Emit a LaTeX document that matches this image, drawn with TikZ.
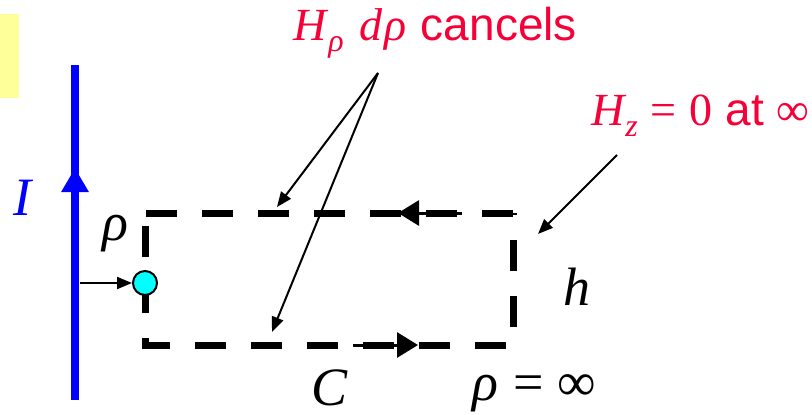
\documentclass[tikz,border=0pt]{standalone}
\usepackage{fontspec}
\setmainfont{Liberation Serif}
\newfontfamily\arialf{Liberation Sans}
\usetikzlibrary{arrows.meta}
\definecolor{lblred}{RGB}{245,0,55}
\definecolor{paleyellow}{RGB}{255,255,153}
\definecolor{dotcyan}{RGB}{0,255,255}
\definecolor{wireblue}{RGB}{0,0,255}
\newcommand{\lowsub}[1]{\raisebox{-11pt}{\fontsize{32}{32}\selectfont\itshape #1}}
\begin{document}
\begin{tikzpicture}[x=1pt,y=-1pt,
  thinarrow/.style={line width=2pt,-{Triangle[length=15pt,width=12pt]}},
  loopside/.style={line width=7pt,dash pattern=on 31pt off 25pt},
  looparrow/.style={line width=3pt,-{Triangle[length=21pt,width=25pt]}},
  blklbl/.style={font=\fontsize{54}{54}\selectfont, inner sep=0pt},
  redlbl/.style={text=lblred,font=\fontsize{46}{46}\selectfont, inner sep=0pt}]
\useasboundingbox (0,0) rectangle (812,415);
% yellow tab
\fill[paleyellow] (0,14) rectangle (19,98);
% wire
\coordinate (wb) at (75,400);
\coordinate (wt) at (75,65);
\coordinate (wa) at (75,168);
\draw[wireblue,line width=8pt] (wb) -- (wt);
\draw[wireblue,line width=8pt,-{Triangle[length=24pt,width=26pt]}] (wb) -- (wa);
\node[blklbl,text=wireblue,anchor=base] (Ilbl) at (22,215) {\itshape I};
% loop corners
\coordinate (tl) at (146,213);
\coordinate (tr) at (516.5,213);
\coordinate (trv) at (513,213);
\coordinate (brv) at (513,345);
\coordinate (bl) at (141.5,345);
\coordinate (br) at (509,345);
\coordinate (lb) at (145,348.5);
\coordinate (lt) at (145,213);
\draw[loopside] (tl) -- (tr);
\draw[loopside,dash phase=2.5pt] (bl) -- (br);
\draw[loopside,dash phase=20.5pt] (lb) -- (lt);
\draw[loopside,dash phase=29pt] (trv) -- (brv);
% direction arrows on the loop
\coordinate (ta0) at (462,213);
\coordinate (ta1) at (398,213);
\coordinate (ba0) at (353,345);
\coordinate (ba1) at (418,345);
\draw[looparrow] (ta0) -- (ta1);
\draw[looparrow] (ba0) -- (ba1);
% point on loop
\node[circle,draw,line width=2pt,fill=dotcyan,minimum size=24pt,inner sep=0pt] (pt) at (145,283) {};
\coordinate (rs) at (80,283);
\draw[thinarrow] (rs) -- (pt.west);
% labels
\node[blklbl,anchor=base] (rholbl) at (115,240) {\itshape ρ};
\node[blklbl,anchor=base] (hlbl) at (577,305) {\itshape h};
\node[blklbl,anchor=base] (Clbl) at (330,405) {\itshape C};
\node[blklbl,anchor=base west] (inflbl) at (472,400) {\itshape ρ\hspace{15pt}\upshape =\hspace{14pt}∞};
\node[redlbl,anchor=base west] (cancel) at (293,40) {\itshape H\kern2pt\lowsub{ρ}\hspace{16pt}d\kern2ptρ\hspace{14pt}\upshape\arialf cancels};
\node[redlbl,anchor=base west] (hz) at (591,125) {\itshape H\kern1pt\lowsub{z}\hspace{13pt}\upshape =\hspace{13pt}0\hspace{13pt}{\arialf at}\hspace{12pt}∞};
% pointer arrows
\coordinate (apex) at (378,73);
\coordinate (tipA) at (277,207);
\coordinate (tipB) at (272,332);
\coordinate (hzs) at (617,155);
\coordinate (hzt) at (538,234);
\draw[thinarrow] (apex) -- (tipA);
\draw[thinarrow] (apex) -- (tipB);
\draw[thinarrow] (hzs) -- (hzt);
\end{tikzpicture}
\end{document}
